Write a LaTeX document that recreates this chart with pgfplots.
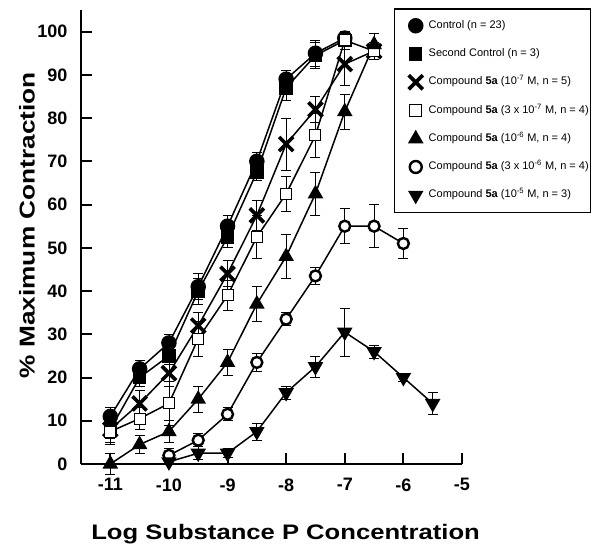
\documentclass[border=0pt]{standalone}
\usepackage{fontspec}
\setmainfont{Liberation Sans}
\newfontfamily\labfont[FakeStretch=1.22]{Liberation Sans}
\usepackage{pgfplots}
\pgfplotsset{compat=1.18}

\pgfplotsset{
  ser/.style={black, line width=1.5pt,
    error bars/y dir=both, error bars/y explicit,
    error bars/error bar style={line width=0.8pt, black},
    error bars/error mark options={rotate=90, mark size=5pt, line width=0.8pt, black}},
  mX/.style={mark=x, mark size=10pt, mark options={line width=3.6pt}},
}

\begin{document}
\begin{tikzpicture}
\useasboundingbox (-81pt,-82pt) rectangle (519pt,464pt);
\begin{axis}[
  scale only axis, width=381pt, height=454pt,
  xmin=-11.5, xmax=-5, ymin=0, ymax=105,
  axis lines=left, axis line style={-, line width=2pt},
  clip=false,
  xtick={-11,-10,-9,-8,-7,-6,-5},
  xticklabels={-11,-10,-9,-8,-7,-6,-5},
  ytick={0,10,20,30,40,50,60,70,80,90,100},
  yticklabels={0,10,20,30,40,50,60,70,80,90,100},
  tick align=inside, major tick length=11pt,
  tick style={line width=2pt, black},
  ticklabel style={font=\fontsize{18}{18}\selectfont\bfseries},
  yticklabel style={xshift=-10pt},
  xticklabel style={yshift=-11pt},
  xlabel={Log Substance P Concentration},
  xlabel style={at={(axis description cs:0.537,-0.167)}, anchor=base,
    font=\fontsize{21}{25}\selectfont\labfont\bfseries},
  ylabel={\% Maximum Contraction},
  ylabel style={at={(axis description cs:-0.142,0.526)}, anchor=center,
    font=\fontsize{21.5}{25}\selectfont\labfont\bfseries},
  legend style={at={(axis description cs:0.8215,1.0044)}, anchor=north west,
    draw=black, line width=1.5pt, inner xsep=0pt, inner ysep=12pt,
    row sep=18.25pt, font=\fontsize{11}{13}\selectfont,
    cells={anchor=west},
    nodes={inner xsep=2pt, inner ysep=0pt, text height=7.5pt, text depth=2.5pt}},
  legend image code/.code={
    \path[draw=none, fill=none] (0pt,-5pt) rectangle (32pt,5pt);
    \draw[overlay,#1] plot coordinates {(21pt,0pt)};},
]

% Control
\addplot[ser, forget plot, mark=*, mark size=7pt] coordinates {
  (-11,11) +- (0,2)
  (-10.5,22) +- (0,2)
  (-10,28) +- (0,2)
  (-9.5,41) +- (0,3)
  (-9,55) +- (0,2.5)
  (-8.5,70) +- (0,2)
  (-8,89) +- (0,2)
  (-7.5,95) +- (0,3)
  (-7,98.5) +- (0,1.5)
};
% Second control
\addplot[ser, forget plot, mark=square*, mark size=6pt] coordinates {
  (-11,8) +- (0,2)
  (-10.5,20) +- (0,2)
  (-10,25) +- (0,2)
  (-9.5,40) +- (0,3)
  (-9,52.5) +- (0,2.5)
  (-8.5,67.5) +- (0,2)
  (-8,87) +- (0,3)
  (-7.5,94.5) +- (0,3)
  (-7,98) +- (0,1.5)
};
% 5a 1e-7
\addplot[ser, forget plot, mX] coordinates {
  (-11,8) +- (0,3)
  (-10.5,14) +- (0,3)
  (-10,21) +- (0,3)
  (-9.5,32) +- (0,3)
  (-9,44) +- (0,3)
  (-8.5,57.5) +- (0,3.5)
  (-8,74) +- (0,6)
  (-7.5,82) +- (0,3)
  (-7,92.5) +- (0,5)
  (-6.5,95.5) +- (0,2)
};
% 5a 3e-7
\addplot[ser, forget plot, mark=square*, mark size=5.5pt, mark options={fill=white, line width=1pt}] coordinates {
  (-11,7.5) +- (0,3)
  (-10.5,10.5) +- (0,2.5)
  (-10,14) +- (0,5)
  (-9.5,29) +- (0,4)
  (-9,39) +- (0,3.5)
  (-8.5,52.5) +- (0,5)
  (-8,62.5) +- (0,4)
  (-7.5,76) +- (0,5)
  (-7,98) +- (0,2)
  (-6.5,95.5) +- (0,2)
};
% 5a 1e-6
\addplot[ser, forget plot, mark=triangle*, mark size=7.5pt] coordinates {
  (-11,0) +- (0,2.5)
  (-10.5,4.5) +- (0,2)
  (-10,7.5) +- (0,2.5)
  (-9.5,15) +- (0,3)
  (-9,23.5) +- (0,3)
  (-8.5,37) +- (0,4)
  (-8,48) +- (0,5)
  (-7.5,62.5) +- (0,5)
  (-7,81.5) +- (0,4)
  (-6.5,97) +- (0,2.5)
};
% 5a 3e-6
\addplot[ser, forget plot, mark=*, mark size=5.5pt, mark options={fill=white, line width=2.4pt}] coordinates {
  (-10,2) +- (0,1.5)
  (-9.5,5.5) +- (0,1.5)
  (-9,11.5) +- (0,1.5)
  (-8.5,23.5) +- (0,2)
  (-8,33.5) +- (0,1.5)
  (-7.5,43.5) +- (0,2)
  (-7,55) +- (0,4)
  (-6.5,55) +- (0,5)
  (-6,51) +- (0,3.5)
};
% 5a 1e-5
\addplot[ser, forget plot, mark=triangle*, mark size=7.5pt, mark options={rotate=180}] coordinates {
  (-10,0.5) +- (0,0.5)
  (-9.5,2.5) +- (0,1.5)
  (-9,2.5) +- (0,1)
  (-8.5,7.5) +- (0,2)
  (-8,16.5) +- (0,1.5)
  (-7.5,22.5) +- (0,2.5)
  (-7,30.5) +- (0,5.5)
  (-6.5,26) +- (0,1.5)
  (-6,20) +- (0,1)
  (-5.5,14) +- (0,2.5)
};

\addlegendimage{black, only marks, mark=*, mark size=7pt}
\addlegendentry{Control (n = 23)}
\addlegendimage{black, only marks, mark=square*, mark size=6pt}
\addlegendentry{Second Control (n = 3)}
\addlegendimage{black, only marks, mX}
\addlegendentry{Compound \textbf{5a} (10\textsuperscript{-7} M, n = 5)}
\addlegendimage{black, only marks, mark=square*, mark size=6pt, mark options={fill=white, line width=1pt}}
\addlegendentry{Compound \textbf{5a} (3 x 10\textsuperscript{-7} M, n = 4)}
\addlegendimage{black, only marks, mark=triangle*, mark size=7.5pt}
\addlegendentry{Compound \textbf{5a} (10\textsuperscript{-6} M, n = 4)}
\addlegendimage{black, only marks, mark=*, mark size=6pt, mark options={fill=white, line width=2.4pt}}
\addlegendentry{Compound \textbf{5a} (3 x 10\textsuperscript{-6} M, n = 4)}
\addlegendimage{black, only marks, mark=triangle*, mark size=7.5pt, mark options={rotate=180}}
\addlegendentry{Compound \textbf{5a} (10\textsuperscript{-5} M, n = 3)}
\end{axis}
\end{tikzpicture}
\end{document}
